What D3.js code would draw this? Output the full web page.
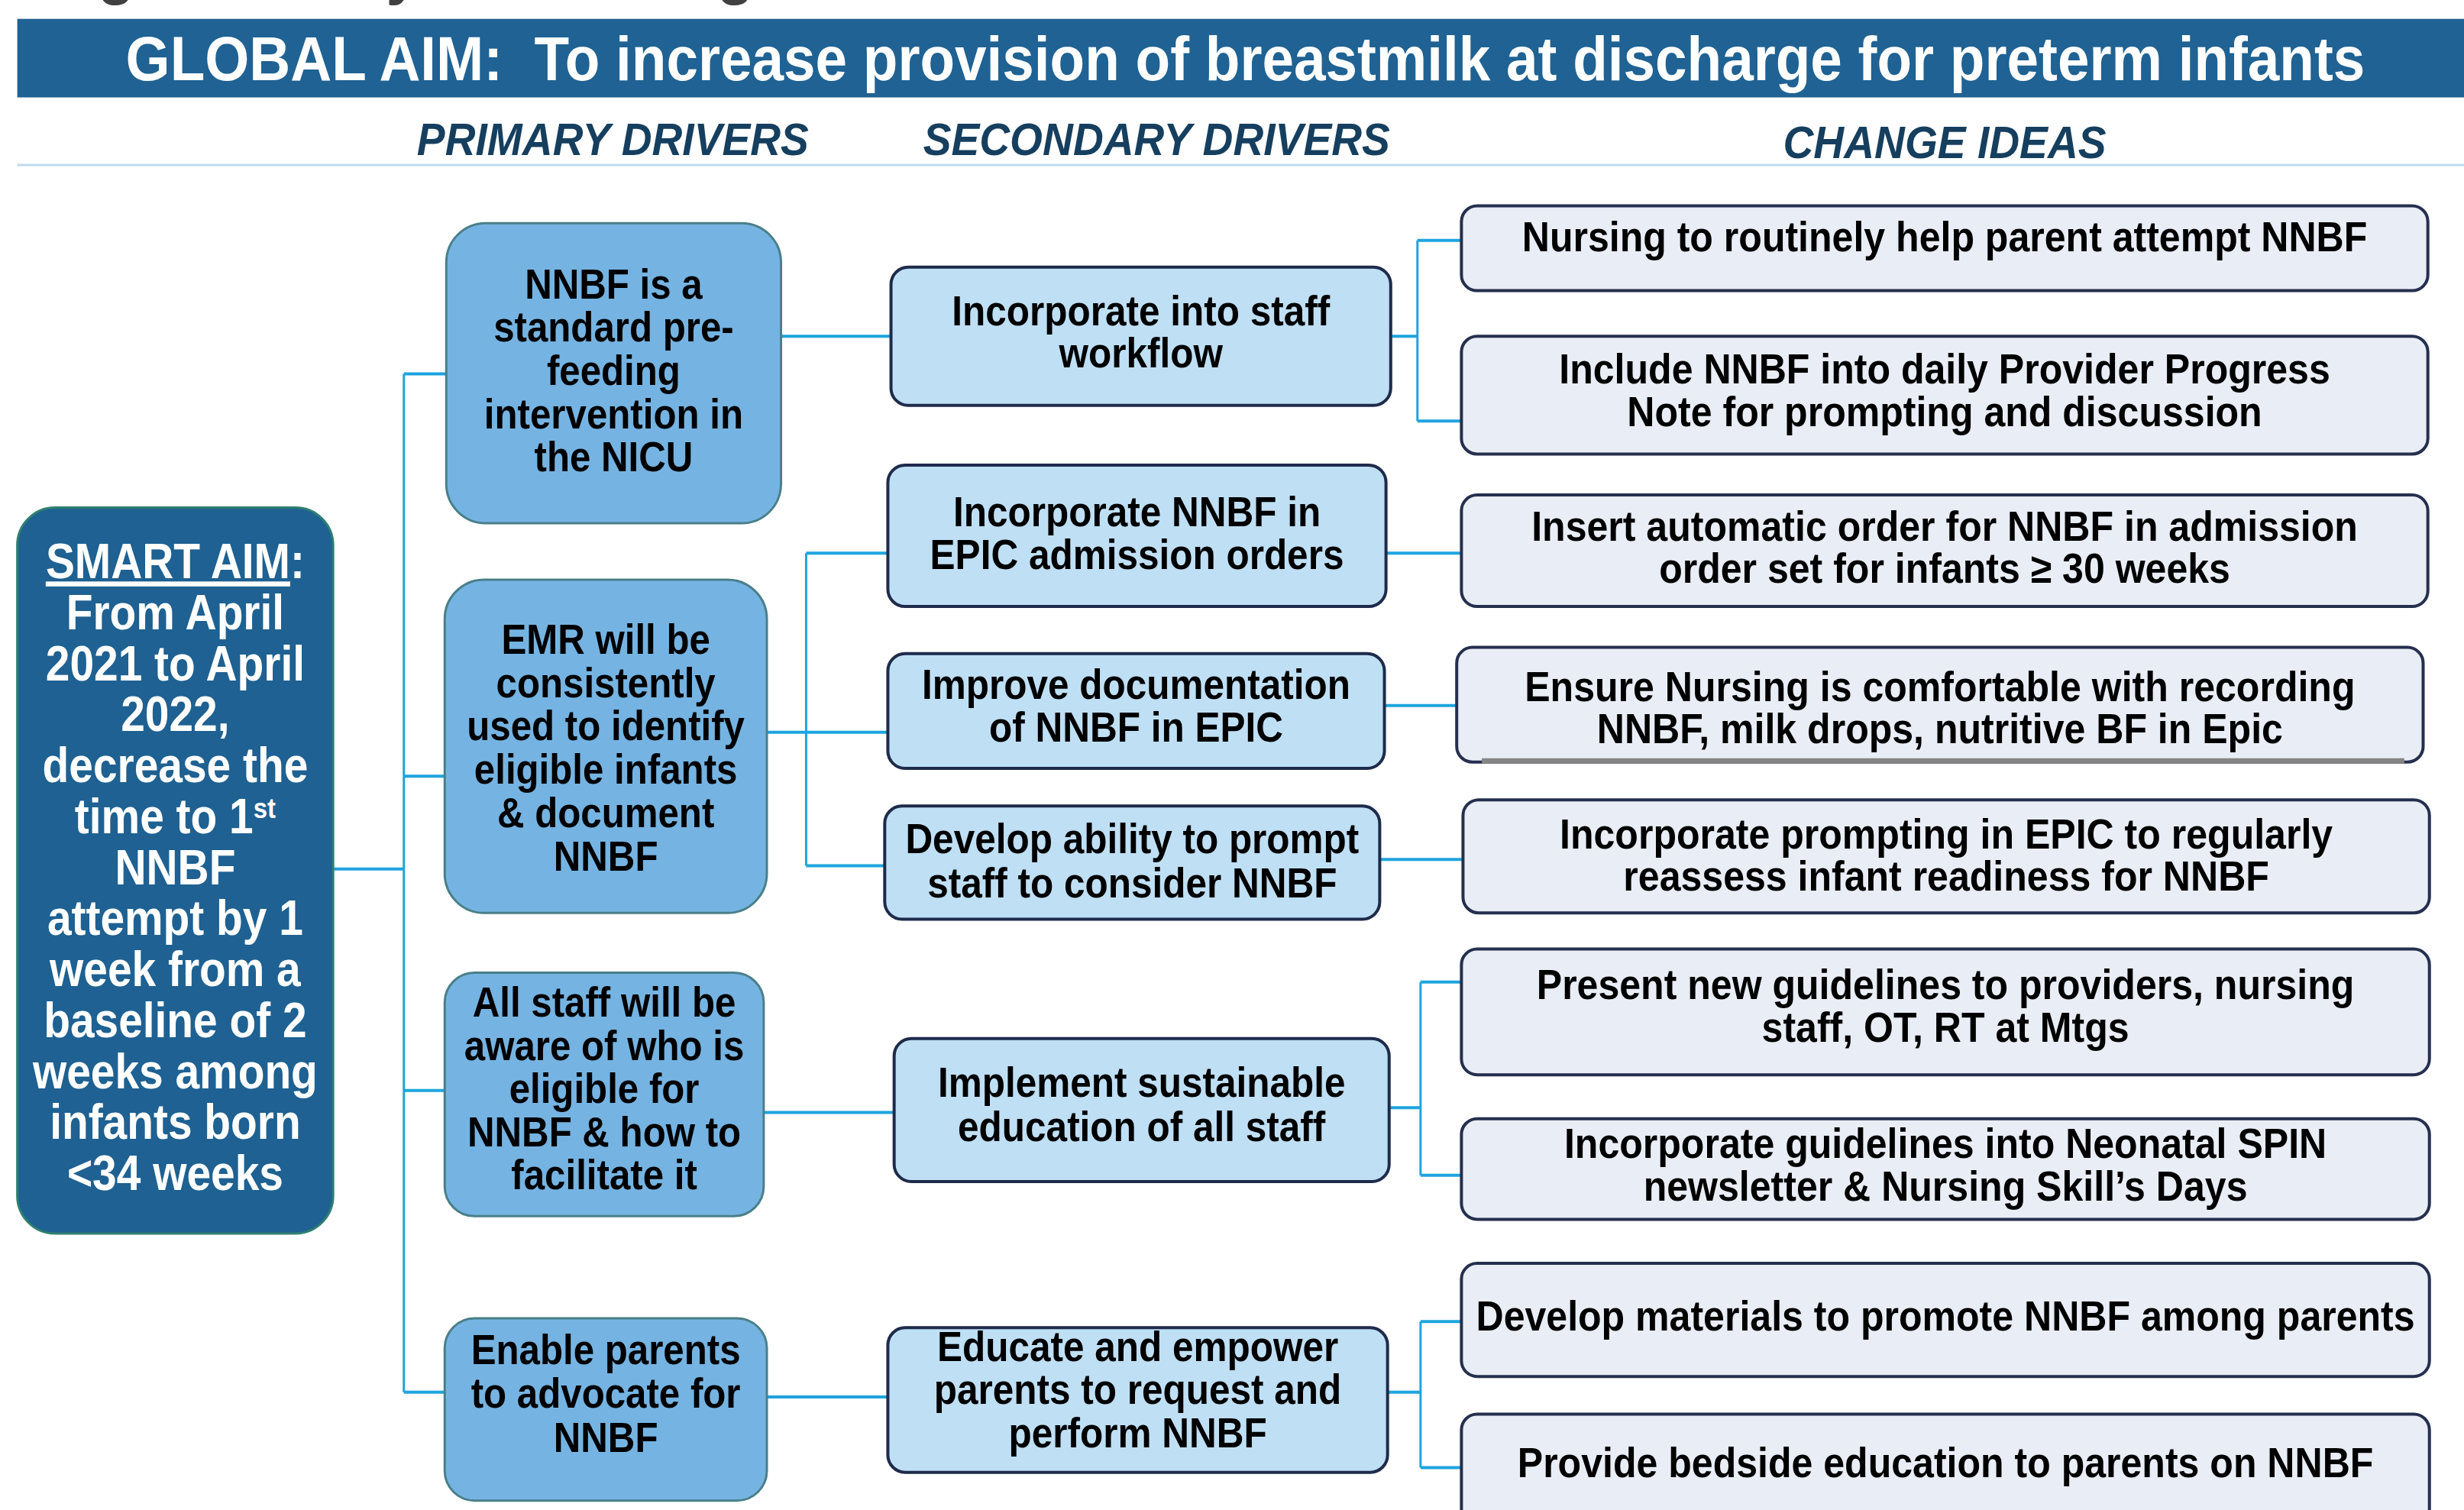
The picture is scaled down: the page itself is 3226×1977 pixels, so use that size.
<!DOCTYPE html>
<html><head><meta charset="utf-8">
<script src="https://cdn.jsdelivr.net/npm/d3@7"></script>
<style>html,body{margin:0;padding:0;background:#fff;overflow:hidden}</style>
</head><body><svg id="c"></svg>
<script>
const W = 3226, H = 1977;

// ---------- DATA ----------
const captionText = "Figure 1. Key Driver Diagram";
const globalAim = "GLOBAL AIM:  To increase provision of breastmilk at discharge for preterm infants";
const columnHeadings = ["PRIMARY DRIVERS", "SECONDARY DRIVERS", "CHANGE IDEAS"];
const smartAim = [
  [{t: "SMART AIM", u: true}, {t: ":"}],
  [{t: "From April"}],
  [{t: "2021 to April"}],
  [{t: "2022,"}],
  [{t: "decrease the"}],
  [{t: "time to 1"}, {t: "st", sup: true}],
  [{t: "NNBF"}],
  [{t: "attempt by 1"}],
  [{t: "week from a"}],
  [{t: "baseline of 2"}],
  [{t: "weeks among"}],
  [{t: "infants born"}],
  [{t: "<34 weeks"}]
];
const primaryDrivers = [
  ["NNBF is a", "standard pre-", "feeding", "intervention in", "the NICU"],
  ["EMR will be", "consistently", "used to identify", "eligible infants", "& document", "NNBF"],
  ["All staff will be", "aware of who is", "eligible for", "NNBF & how to", "facilitate it"],
  ["Enable parents", "to advocate for", "NNBF"]
];
const secondaryDrivers = [
  ["Incorporate into staff", "workflow"],
  ["Incorporate NNBF in", "EPIC admission orders"],
  ["Improve documentation", "of NNBF in EPIC"],
  ["Develop ability to prompt", "staff to consider NNBF"],
  ["Implement sustainable", "education of all staff"],
  ["Educate and empower", "parents to request and", "perform NNBF"]
];
const secondaryParent = [0, 1, 1, 1, 2, 3];
const changeIdeas = [
  ["Nursing to routinely help parent attempt NNBF"],
  ["Include NNBF into daily Provider Progress", "Note for prompting and discussion"],
  ["Insert automatic order for NNBF in admission", "order set for infants \u2265 30 weeks"],
  ["Ensure Nursing is comfortable with recording", "NNBF, milk drops, nutritive BF in Epic"],
  ["Incorporate prompting in EPIC to regularly", "reassess infant readiness for NNBF"],
  ["Present new guidelines to providers, nursing", "staff, OT, RT at Mtgs"],
  ["Incorporate guidelines into Neonatal SPIN", "newsletter & Nursing Skill\u2019s Days"],
  ["Develop materials to promote NNBF among parents"],
  ["Provide bedside education to parents on NNBF"]
];
const changeParent = [0, 0, 1, 2, 3, 4, 4, 5, 5];

// ---------- LAYOUT (reference units) ----------
const layout = {
  caption: {x: 28.7, y: -4.4},
  bar: {x0: 11, x1: 1568, y0: 12, y1: 62, tx0: 80, tx1: 1505, ty: 51},
  headings: [{cx: 390, y: 98.7}, {cx: 736, y: 98.7}, {cx: 1237.5, y: 100.6}],
  divider: {x0: 11, x1: 1568, y: 105},
  smart: {x0: 11, x1: 212, y0: 323, y1: 785, rx: 24, ty: 368, lh: 32.45, outY: 553, trunkX: 257},
  primary: [
    {x0: 284, x1: 497, y0: 142, y1: 333, rx: 25, inY: 238, ty: 190, lh: 27.5, outY: 214},
    {x0: 283, x1: 488, y0: 369, y1: 581, rx: 25, inY: 494, ty: 416, lh: 27.6, outY: 466, trunkX: 513},
    {x0: 283, x1: 486, y0: 619, y1: 774, rx: 19, inY: 694, ty: 647, lh: 27.5, outY: 708},
    {x0: 283, x1: 488, y0: 839, y1: 955, rx: 19, inY: 886, ty: 868, lh: 28, outY: 889}
  ],
  secondary: [
    {x0: 567, x1: 885, y0: 170, y1: 258, inY: 214, ty: 207, lh: 27, outY: 214, trunkX: 902},
    {x0: 565, x1: 882, y0: 296, y1: 386, inY: 352, ty: 335, lh: 27, outY: 352},
    {x0: 565, x1: 881, y0: 416, y1: 489, inY: 466, ty: 445, lh: 27, outY: 449},
    {x0: 563, x1: 878, y0: 513, y1: 585, inY: 551, ty: 543, lh: 28, outY: 547},
    {x0: 569, x1: 884, y0: 661, y1: 752, inY: 708, ty: 698, lh: 28, outY: 705, trunkX: 904},
    {x0: 565, x1: 883, y0: 845, y1: 937, inY: 889, ty: 866, lh: 27.5, outY: 886, trunkX: 904}
  ],
  change: [
    {x0: 930, x1: 1545, y0: 131, y1: 185, inY: 153, ty: 160, lh: 27},
    {x0: 930, x1: 1545, y0: 214, y1: 289, inY: 268, ty: 244, lh: 27},
    {x0: 930, x1: 1545, y0: 315, y1: 386, inY: 352, ty: 344, lh: 27},
    {x0: 927, x1: 1542, y0: 412, y1: 485, inY: 449, ty: 446, lh: 27, shadow: true},
    {x0: 931, x1: 1546, y0: 509, y1: 581, inY: 547, ty: 540, lh: 27},
    {x0: 930, x1: 1546, y0: 604, y1: 684, inY: 625, ty: 636, lh: 27},
    {x0: 930, x1: 1546, y0: 712, y1: 776, inY: 748, ty: 737, lh: 27},
    {x0: 930, x1: 1546, y0: 804, y1: 876, inY: 841, ty: 847, lh: 27},
    {x0: 930, x1: 1546, y0: 900, y1: 975, inY: 934, ty: 940, lh: 27}
  ]
};

const style = {
  font: "'Liberation Sans', Arial, Helvetica, sans-serif",
  barFill: "#1f6293", titleSize: 81,
  headingColor: "#163f5f", headingSize: 60, headingSx: 0.92,
  divider: "#bdd9ef",
  smartFill: "#1e6192", smartStroke: "#2f7f70", smartSize: 65, smartSx: 0.875,
  primFill: "#75b4e2", primStroke: "#4a7f89", primSize: 55, primSx: 0.895,
  secFill: "#bfdff4", secStroke: "#1e2b4b", secSize: 55, secSx: 0.9, secRx: 11,
  chgFill: "#e9edf5", chgStroke: "#252f4e", chgSize: 55, chgSx: 0.91, chgRx: 10,
  link: "#1ea4de", linkW: 4, trunkW: 3,
  caption: "#404040", captionSize: 78
};

// ---------- SCALES ----------
const X = d3.scaleLinear().domain([0, 1568]).range([0, W]);
const Y = d3.scaleLinear().domain([0, 961]).range([0, H]);

const svg = d3.select("#c").attr("width", W).attr("height", H)
  .attr("viewBox", `0 0 ${W} ${H}`).style("font-family", style.font);

svg.append("rect").attr("width", W).attr("height", H).attr("fill", "#fff");

// caption (cut off at top edge, as in the reference)
svg.append("text").attr("x", X(layout.caption.x)).attr("y", Y(layout.caption.y))
  .attr("font-size", style.captionSize).attr("font-weight", "bold")
  .attr("fill", style.caption).text(captionText);

// title bar
const b = layout.bar;
svg.append("rect").attr("x", X(b.x0)).attr("y", Y(b.y0))
  .attr("width", X(b.x1) - X(b.x0)).attr("height", Y(b.y1) - Y(b.y0)).attr("fill", style.barFill);
svg.append("text").attr("x", X(b.tx0)).attr("y", Y(b.ty))
  .attr("font-size", style.titleSize).attr("font-weight", "bold").attr("fill", "#fff")
  .attr("textLength", X(b.tx1) - X(b.tx0)).attr("lengthAdjust", "spacingAndGlyphs")
  .style("white-space", "pre").text(globalAim);

// headings
svg.selectAll("text.head").data(columnHeadings).join("text").attr("class", "head")
  .attr("transform", (d, i) => `translate(${X(layout.headings[i].cx)},${Y(layout.headings[i].y)}) scale(${style.headingSx},1)`)
  .attr("text-anchor", "middle").attr("font-size", style.headingSize)
  .attr("font-weight", "bold").attr("font-style", "italic")
  .attr("fill", style.headingColor).text(d => d);

// divider
svg.append("rect").attr("x", X(layout.divider.x0)).attr("y", Y(layout.divider.y) - 1.5)
  .attr("width", X(layout.divider.x1) - X(layout.divider.x0)).attr("height", 3)
  .attr("fill", style.divider);

// ---------- LINKS ----------
const gLinks = svg.append("g").attr("fill", "none").attr("stroke", style.link);

function drawLinks(parent, children) {
  if (!children.length) return;
  if (parent.trunkX !== undefined) {
    const ys = children.map(c => c.inY).concat([parent.outY]);
    gLinks.append("line").attr("x1", X(parent.x1)).attr("x2", X(parent.trunkX))
      .attr("y1", Y(parent.outY)).attr("y2", Y(parent.outY)).attr("stroke-width", style.linkW);
    gLinks.append("line").attr("x1", X(parent.trunkX)).attr("x2", X(parent.trunkX))
      .attr("y1", Y(d3.min(ys))).attr("y2", Y(d3.max(ys))).attr("stroke-width", style.trunkW);
    children.forEach(c => {
      gLinks.append("line").attr("x1", X(parent.trunkX)).attr("x2", X(c.x0))
        .attr("y1", Y(c.inY)).attr("y2", Y(c.inY)).attr("stroke-width", style.linkW);
    });
  } else {
    children.forEach(c => {
      const mx = (parent.x1 + c.x0) / 2;
      gLinks.append("path").attr("stroke-width", style.linkW)
        .attr("d", d3.line()([[X(parent.x1), Y(parent.outY)], [X(mx), Y(parent.outY)], [X(mx), Y(c.inY)], [X(c.x0), Y(c.inY)]]));
    });
  }
}

drawLinks(layout.smart, layout.primary);
layout.primary.forEach((p, i) => drawLinks(p, layout.secondary.filter((s, j) => secondaryParent[j] === i)));
layout.secondary.forEach((s, i) => drawLinks(s, layout.change.filter((c, j) => changeParent[j] === i)));

// ---------- BOXES ----------
function box(g, L, fill, stroke, sw, rx) {
  g.append("rect").attr("x", X(L.x0)).attr("y", Y(L.y0))
    .attr("width", X(L.x1) - X(L.x0)).attr("height", Y(L.y1) - Y(L.y0))
    .attr("rx", X(rx)).attr("ry", X(rx))
    .attr("fill", fill).attr("stroke", stroke).attr("stroke-width", sw);
}

function lines(g, L, rows, size, sx, color) {
  const cx = X((L.x0 + L.x1) / 2);
  rows.forEach((row, i) => {
    const runs = typeof row === "string" ? [{t: row}] : row;
    const t = g.append("text")
      .attr("transform", `translate(${cx},${Y(L.ty + i * L.lh)}) scale(${sx},1)`)
      .attr("text-anchor", "middle").attr("font-size", size)
      .attr("font-weight", "bold").attr("fill", color);
    runs.forEach(r => {
      const ts = t.append("tspan").text(r.t);
      if (r.u) ts.style("text-decoration", "underline");
      if (r.sup) ts.attr("font-size", size * 0.58).attr("dy", -size * 0.3);
    });
  });
}

const gBoxes = svg.append("g");

box(gBoxes, layout.smart, style.smartFill, style.smartStroke, 3, layout.smart.rx);
lines(gBoxes, layout.smart, smartAim, style.smartSize, style.smartSx, "#fff");

layout.primary.forEach((L, i) => {
  box(gBoxes, L, style.primFill, style.primStroke, 3, L.rx);
  lines(gBoxes, L, primaryDrivers[i], style.primSize, style.primSx, "#000");
});

layout.secondary.forEach((L, i) => {
  box(gBoxes, L, style.secFill, style.secStroke, 4, style.secRx);
  lines(gBoxes, L, secondaryDrivers[i], style.secSize, style.secSx, "#000");
});

layout.change.forEach((L, i) => {
  box(gBoxes, L, style.chgFill, style.chgStroke, 4, style.chgRx);
  if (L.shadow) {
    gBoxes.append("rect").attr("x", X(L.x0 + 16)).attr("y", Y(L.y1) - 5)
      .attr("width", X(L.x1 - 12) - X(L.x0 + 16)).attr("height", 7).attr("fill", "#858585");
  }
  lines(gBoxes, L, changeIdeas[i], style.chgSize, style.chgSx, "#000");
});
</script>
</body></html>
